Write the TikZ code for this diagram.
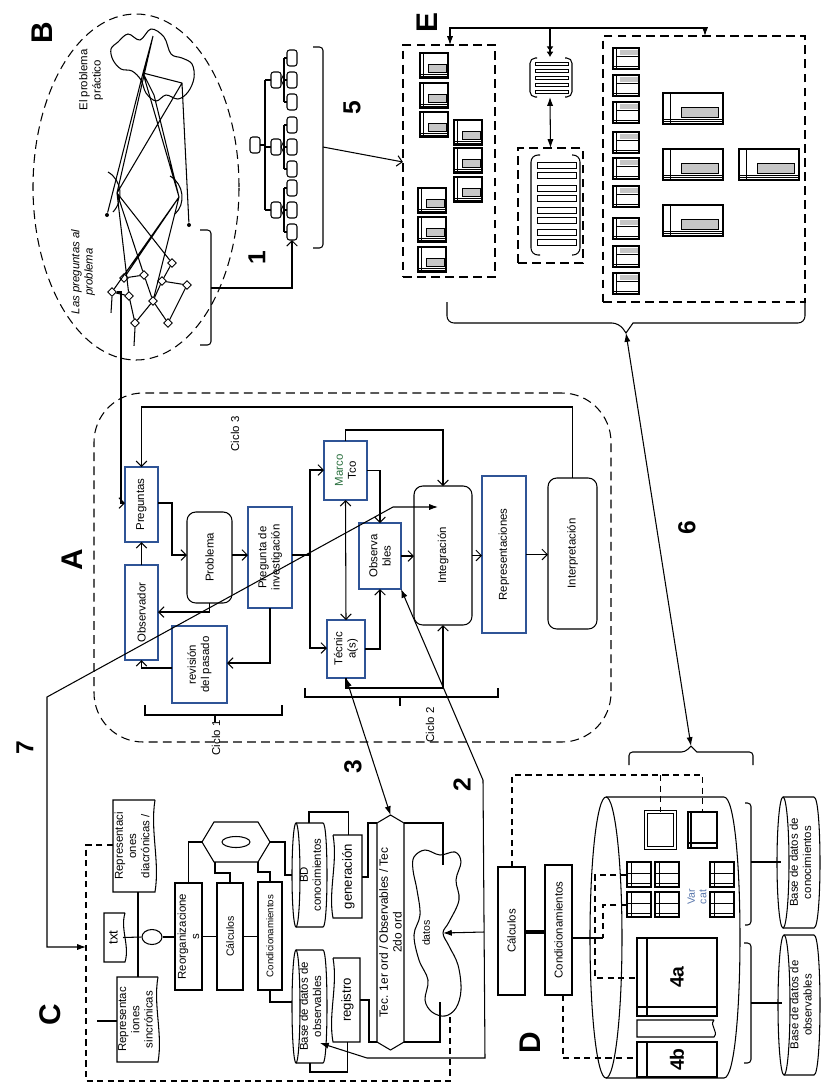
\documentclass[tikz,border=0pt]{standalone}
\usepackage{fontspec}
\setmainfont{Liberation Sans}
\usepackage{graphicx}
\usetikzlibrary{positioning, arrows.meta, fit, shapes.geometric}
\definecolor{azulcaja}{RGB}{47,84,150}
\definecolor{verdetxt}{RGB}{40,110,60}
\newcommand{\upx}{0.02cm}
\newcommand{\letrapeq}{\fontsize{6.5}{7.5}\selectfont}
\newcommand{\letramed}{\fontsize{7.5}{8.5}\selectfont}
% documento con el borde ondulado a la derecha / a la izquierda
\newcommand{\docder}[4]{\draw (#3,#2) -- (#1,#2) -- (#1,#4) -- (#3,#4)
  .. controls ({#3+5},{#4-(#4-#2)/3}) and ({#3-5},{#2+(#4-#2)/3}) .. (#3,#2);}
\newcommand{\docizq}[4]{\draw (#1,#2) -- (#3,#2) -- (#3,#4) -- (#1,#4)
  .. controls ({#1-5},{#4-(#4-#2)/3}) and ({#1+5},{#2+(#4-#2)/3}) .. (#1,#2);}
% cilindro tumbado, tapa a la izquierda
\newcommand{\cilindro}[5]{\draw ({#1+#5},#2) -- ({#3-#5},#2)
  .. controls ({#3+#5/3},#2) and ({#3+#5/3},#4) .. ({#3-#5},#4) -- ({#1+#5},#4);
  \draw ({#1+#5},{(#2+#4)/2}) ellipse ({#5} and {(#4-#2)/2});}
\tikzset{
  pics/tabla/.style 2 args={code={
    \fill[gray!45] (0.3*#1,0.45*#2) rectangle (0.93*#1,0.78*#2);
    \draw[line width=0.4pt] (0.3*#1,0.45*#2) rectangle (0.93*#1,0.78*#2);
    \draw[line width=0.8pt] (0,0) rectangle (#1,#2);
    \draw[line width=0.4pt] (0.13*#1,0) -- (0.13*#1,#2)
      (0,0.86*#2) -- (#1,0.86*#2) (0,0.93*#2) -- (#1,0.93*#2);
  }},
  pics/tablab/.style 2 args={code={
    \fill[gray!45] (0.25*#1,0.1*#2) rectangle (0.95*#1,0.35*#2);
    \draw[line width=0.8pt] (0,0) rectangle (#1,#2);
    \draw[line width=0.4pt] (0.12*#1,0) -- (0.12*#1,#2) (0,0.85*#2) -- (#1,0.85*#2);
    \draw[line width=0.8pt] (0.12*#1,0.4*#2) -- (#1,0.4*#2);
  }},
  pics/rejilla/.style 2 args={code={
    \draw[line width=0.8pt] (0,0) rectangle (#1,#2);
    \draw[line width=0.4pt] (0.18*#1,0) -- (0.18*#1,#2)
      (0,0.45*#2) -- (#1,0.45*#2) (0,0.85*#2) -- (#1,0.85*#2);
  }},
}

\begin{document}
\begin{tikzpicture}[x=0.02cm, y=-0.02cm, line width=0.6pt,
    caja/.style={draw, inner sep=0pt, outer sep=0pt},
    cajaazul/.style={caja, draw=azulcaja, line width=1.3pt},
    redonda/.style={caja, rounded corners=5pt},
    gruesa/.style={caja, line width=1.5pt},
    hueca/.style={inner sep=0pt, outer sep=0pt},
    zona/.style={draw, dash pattern=on 5pt off 3pt, inner sep=0pt, outer sep=0pt},
    discont/.style={dash pattern=on 3.5pt off 2.5pt},
    flecha/.style={->, >={Straight Barb[length=3pt,width=6pt]}},
    dobleflecha/.style={<->, >={Straight Barb[length=3pt,width=6pt]}},
    flechanegra/.style={->, >={Latex[length=5pt,width=3.5pt]}},
    dobleflechanegra/.style={<->, >={Latex[length=5pt,width=3.5pt]}},
    letra/.style={rotate=90, font=\fontsize{17}{17}\selectfont\bfseries},
    numero/.style={rotate=90, font=\fontsize{14}{14}\selectfont\bfseries},
    rotulo/.style={rotate=90, font=\letrapeq, align=center, inner sep=0pt},
    texto/.style={label={[rotulo]center:{#1}}},
    textofuente/.style 2 args={label={[rotulo, font=#1]center:{#2}}},
    rombo/.style={draw, diamond, inner sep=0pt, minimum size=9*\upx, line width=0.5pt},
    punto/.style={fill, circle, inner sep=0pt, minimum size=4*\upx},
    hoja/.style={caja, rounded corners=1.5pt, minimum width=10*\upx, minimum height=16*\upx},
]
\useasboundingbox (0,0) rectangle (821,1083);

% --- B: el problema practico y las preguntas ---
\node[draw, ellipse, dash pattern=on 5pt off 3pt, minimum width=206*\upx,
      minimum height=346*\upx, inner sep=0pt] (B) at (136,187) {};
\node[letra] (letB) at (42,33) {B};
\node[rotulo] (tprac) at (91,80) {El problema\\práctico};
\node[rotulo, font=\letrapeq\itshape] (tpreg) at (83,272) {Las preguntas al\\problema};
\draw plot[smooth cycle, tension=0.6] coordinates {(118,42) (128,34) (140,40) (151,29)
  (164,37) (171,54) (182,58) (192,64) (194,78) (188,92) (178,99) (166,95) (156,101)
  (146,93) (141,80) (132,71) (121,69) (113,60) (111,49)};
\coordinate (c1) at (153,36);
\coordinate (c2) at (143,73);
\coordinate (c3) at (154,95);
\coordinate (c4) at (182,83);
\coordinate (k1) at (117,193);
\coordinate (k2) at (179,197);
\node[punto] (d1) at (107,215) {};
\node[punto] (d2) at (189,225) {};
\foreach \n/\x/\y in {q1/112/292, q2/124/278, q3/129/296, q4/144/275, q5/162/281,
    q6/172/263, q7/187/285, q8/153/301, q9/135/323, q10/168/323}
  \node[rombo] (\n) at (\x,\y) {};
\draw (d1) -- (c2) (k1) -- (c1) (k1) -- (c4) (k2) -- (c3) (k2) -- (c2) (d2) -- (c4)
      (c1) -- (c2) -- (c3) (c2) -- (c4);
\draw (k1) -- (q6) (k1) -- (q4) (k1) -- (q3) (k2) -- (q2) (k2) -- (q1) (k2) -- (q8);
\draw (q2) -- (q4) (q4) -- (q8) (q8) -- (q5) (q5) -- (q6) (q8) -- (q9) (q8) -- (q10)
      (q10) -- (q7) (q3) -- (q9) (q7) -- (q5) (q1) -- (q3);
\draw (q1.south) -- ++(-1,16) (q9.south) -- ++(-1,18);
\draw (108,172) .. controls (122,180) and (124,200) .. (113,212);
\draw (170,176) .. controls (184,184) and (186,204) .. (175,214);

% --- 1: arbol de preguntas ---
\draw[rounded corners=2pt] (200,230) -- (211,230) -- (211,345) -- (200,345);
\coordinate (corB) at (211,288);
\node[numero] (num1) at (257,258) {1};
\node[hoja] (r0) at (255,145) {};
\draw (r0.east) -- (265,145) (265,80) -- (265,210);
\foreach \i/\y in {1/80, 2/147, 3/210} {
  \node[hoja] (m\i) at (276,\y) {};
  \draw (265,\y) -- (m\i.west);
  \foreach \j/\dy in {1/-22, 2/0, 3/22} {
    \node[hoja] (t\i\j) at (292,\y+\dy) {};
    \draw (284,\y+\dy) -- (t\i\j.west);
  }
  \draw (284,\y-22) -- (284,\y+22);
  \draw (m\i.east) -- (284,\y-6) (m\i.east) -- (284,\y+6);
}
\draw[flecha] (corB) -| (t33.south);

% --- E: tablas ---
\node[letra] (letE) at (427,23) {E};
\node[zona, fit={(403,45) (495,277)}] (Eizq) {};
\node[zona, fit={(603,36) (805,302)}] (Eder) {};
\node[zona, fit={(518,148) (583,263)}] (pilag) {};
\node[hueca, fit={(528,57) (572,97)}] (pila) {};
\foreach \x/\y in {420/53, 420/83, 420/112, 454/120, 454/148, 454/177, 418/188, 418/217, 418/247}
  \pic at (\x,\y) {tabla={28}{25}};
\foreach \y in {48,75,102,132,158,186,218,246,273}
  \pic at (613,\y) {tablab={26}{21}};
\foreach \x/\y in {663/93, 663/149, 739/149, 663/205}
  \pic at (\x,\y) {tabla={60}{31}};
\draw[rounded corners=3pt] (537,58) -- (530,58) -- (530,97) -- (537,97);
\draw[rounded corners=3pt] (565,58) -- (572,58) -- (572,97) -- (565,97);
\foreach \y in {62,69,76,83,90} \draw[line width=0.5pt] (535,\y) rectangle (568,\y+3);
\draw[rounded corners=4pt] (540,155) -- (531,155) -- (531,255) -- (540,255);
\draw[rounded corners=4pt] (572,155) -- (580,155) -- (580,255) -- (572,255);
\foreach \y in {162,172,185,195,207,217,229,239} \draw[line width=0.5pt] (537,\y) rectangle (576,\y+6);
\draw[dobleflechanegra] (Eizq.north -| 450,0) -- (450,28) -- (705,28) -- (Eder.north -| 705,0);
\draw[-{Latex[length=3pt,width=4pt] Latex[length=3pt,width=4pt]}] (pila.north |- 0,28) -- (pila.north);
\draw[dobleflechanegra] (pila.south) -- (pilag.north);
\draw[rounded corners=2pt] (313,47) -- (323,47) -- (323,248) -- (313,248);
\node[numero] (num5) at (352,108) {5};
\draw[flecha] (323,147) -- (Eizq.west |- 0,162);
\draw[rounded corners=4pt] (447,302) -- (447,323) -- (619,323) [sharp corners] -- (626,333)
  -- (633,323) [rounded corners=4pt] -- (805,323) -- (805,302);
\coordinate (picoE) at (626,333);

% --- A: ciclos de la investigacion ---
\node[zona, rounded corners=28pt, fit={(94,393) (611,742)}] (A) {};
\node[letra] (letA) at (72,560) {A};
\node[rotulo] (ciclo3) at (235,434) {Ciclo 3};
\node[cajaazul, fit={(125,467) (158,542)}, texto={Preguntas}] (preg) {};
\node[cajaazul, fit={(125,565) (158,660)}, texto={Observador}] (obsr) {};
\node[redonda, fit={(187,512) (232,603)}, texto={Problema}] (prob) {};
\node[cajaazul, fit={(248,507) (292,608)}, texto={Pregunta de\\investigación}] (pinv) {};
\node[cajaazul, fit={(172,626) (227,703)}, texto={revisión\\del pasado}] (revp) {};
\node[cajaazul, fit={(324,441) (367,500)}, texto={\textcolor{verdetxt}{Marco}\\Tco}] (marco) {};
\node[cajaazul, fit={(359,523) (401,589)}, texto={Observa\\bles}] (obsb) {};
\node[cajaazul, fit={(327,620) (365,678)}, texto={Técnic\\a(s)}] (tecn) {};
\node[redonda, fit={(414,486) (472,625)}, texto={Integración}] (integ) {};
\node[cajaazul, fit={(482,476) (526,633)}, texto={Representaciones}] (repr) {};
\node[redonda, fit={(548,478) (597,629)}, texto={Interpretación}] (interp) {};

\draw[flecha] (interp.north) -- (interp.north |- 0,407) -- (preg.north |- 0,407) -- (preg.north);
\draw[flecha] (obsr.north) -- (preg.south);
\draw[flecha] (preg.east |- 0,503) -| (172,555) -- (prob.west |- 0,555);
\draw[flecha] (prob.east |- 0,555) -- (pinv.west |- 0,555);
\draw[flecha] (prob.south) |- (obsr.east |- 0,612);
\draw[flecha] (pinv.south) |- (revp.east |- 0,663);
\draw[flecha] (revp.west |- 0,668) -| (obsr.south);
\draw[flecha] (q1.east) -| (121,503) -- (preg.west |- 0,503);
\draw (pinv.east |- 0,555) -- (310,555);
\draw[flecha] (310,648) |- (marco.west |- 0,470);
\draw[flecha] (310,555) |- (tecn.west |- 0,648);
\draw[flecha] (marco.north) |- (integ.north |- 0,430) -- (integ.north);
\draw[flecha] (marco.east) -| (obsb.north);
\draw[dobleflecha] (marco.south) -- (tecn.north);
\draw[flecha] (tecn.east) -| (obsb.south);
\draw[flecha] (obsb.east) -- (integ.west |- obsb.east);
\draw[flecha] (integ.east) -- (repr.west |- integ.east);
\draw[flecha] (repr.east) -- (interp.west |- repr.east);
\draw[flecha] (tecn.south) |- (integ.south |- 0,688) -- (integ.south);
% llaves de los ciclos
\draw (145,705) -- (145,715) -- (282,715) -- (282,705) (215,715) -- (215,722);
\node[rotulo] (ciclo1) at (216,738) {Ciclo 1};
\draw (305,688) -- (305,697) -- (498,697) -- (498,688) (400,697) -- (400,706);
\node[rotulo] (ciclo2) at (430,725) {Ciclo 2};

% --- C: representaciones ---
\node[letra] (letC) at (50,1015) {C};
\draw[discont] (113,845) -- (86,845) -- (86,1081) -- (450,1081) -- (450,1017);
\coordinate (Cizq) at (86,947);
\docder{113}{800}{155}{892}
\node[hueca, fit={(113,800) (151,892)}, texto={Representaci\\ones\\diacrónicas /}] (rdia) {};
\docder{117}{977}{158}{1062}
\node[hueca, fit={(117,977) (154,1062)}, texto={Representac\\iones\\sincrónicas}] (rsin) {};
\docder{104}{913}{125}{962}
\node[hueca, fit={(104,913) (123,962)}, textofuente={\letramed}{txt}] (txt) {};
\node[draw, ellipse, minimum width=20*\upx, minimum height=15*\upx, inner sep=0pt] (circ) at (152,937) {};
\node[caja, fit={(175,883) (202,990)}, texto={Reorganizacione\\s}] (reorg) {};
\node[caja, fit={(217,883) (243,990)}, textofuente={\fontsize{6}{7}\selectfont}{Cálculos}] (calcC) {};
\node[caja, fit={(258,882) (282,990)}, textofuente={\fontsize{5.5}{6.5}\selectfont}{Condicionamientos}] (condC) {};
\node[hueca, fit={(202,822) (270,862)}] (hexa) {};
\draw (hexa.west) -- (214,822) -- (258,822) -- (hexa.east) -- (258,862) -- (214,862) -- cycle;
\draw (236,842) ellipse (14 and 5.5);
\cilindro{292}{823}{327}{927}{4}
\node[hueca, fit={(294,823) (327,927)}, texto={BD\\conocimientos}] (bdc) {};
\cilindro{292}{950}{327}{1063}{4}
\node[hueca, fit={(294,950) (327,1063)}, texto={Base de datos de\\observables}] (bdo) {};
\docizq{333}{835}{362}{918}
\node[hueca, fit={(335,835) (362,918)}, textofuente={\letramed}{generación}] (gen) {};
\docizq{333}{958}{360}{1042}
\node[hueca, fit={(335,958) (360,1042)}, textofuente={\letramed}{registro}] (reg) {};
\node[hueca, fit={(377,815) (404,1050)},
  textofuente={\fontsize{6.8}{7.8}\selectfont}{Tec. 1er ord / Observables / Tec\\2do ord}] (tec1) {};
\draw (tec1.north) -- (404,823) -- (404,1042) -- (tec1.south) -- (377,1042) -- (377,823) -- cycle;
\draw plot[smooth cycle, tension=0.6] coordinates {(414,857) (425,850) (440,855) (455,852)
  (461,862) (456,880) (459,900) (449,922) (443,933) (449,946) (458,965) (461,990) (456,1008)
  (445,1016) (432,1012) (425,1000) (428,980) (419,960) (414,935) (420,915) (417,890) (413,870)};
\node[rotulo, font=\fontsize{6}{7}\selectfont] (datos) at (426,933) {datos};

\draw (97,1021) -- (rsin.west |- 0,1021);
\draw (rdia.south -| 138,0) -- (rsin.north -| 138,0);
\draw (txt.east) -- (circ.west);
\draw (circ.east) -- (reorg.west |- circ.east);
\draw (reorg.east) -- (calcC.west |- reorg.east);
\draw (calcC.east) -- (condC.west |- calcC.east);
\draw (reorg.north) |- (hexa.west);
\draw (calcC.north) |- (215,873) -- (215,862);
\draw (258,862) -- (258,872) -| (condC.north);
\draw (hexa.east) -| (285,875) -- (292,875);
\draw (309,823) |- (gen.north |- 0,812) -- (gen.north);
\draw (gen.east |- 0,877) -| (368,823) -- (tec1.west |- 0,823);
\draw (tec1.east |- 0,823) -| (443,865);
\draw (tec1.east |- 0,1042) -| (440,1002);
\draw (reg.east |- 0,1000) -| (369,1042) -- (tec1.west |- 0,1042);
\draw (reg.south) |- (310,1072) -- (310,1063);
\draw (condC.south) |- (292,1002);

% --- D: base de datos ---
\node[letra] (letD) at (530,1043) {D};
\node[gruesa, fit={(498,867) (525,995)}, texto={Cálculos}] (calcD) {};
\node[gruesa, fit={(545,865) (572,995)}, texto={Condicionamientos}] (condD) {};
\draw[line width=1.8pt] (calcD.east |- 0,932) -- (condD.west |- 0,932);
\cilindro{590}{797}{740}{1078}{16}
\node[hueca, fit={(590,797) (740,1078)}] (cilD) {};
\cilindro{777}{797}{820}{928}{6}
\node[hueca, fit={(781,797) (820,928)}, texto={Base de datos de\\conocimientos}] (bdcD) {};
\cilindro{778}{935}{820}{1075}{6}
\node[hueca, fit={(782,935) (820,1075)}, texto={Base de datos de\\observables}] (bdoD) {};
\node[caja, double, double distance=1.2pt, fit={(646,812) (675,848)}] (sb1) {};
\node[caja, fit={(688,812) (717,848)}] (sb2) {};
\draw (691,812) -- (691,848) (688,843) -- (717,843);
\foreach \x/\y in {627/862, 655/862, 627/892, 655/892, 710/862, 710/892}
  \pic at (\x,\y) {rejilla={24}{25}};
\node[rotulo, text=azulcaja!80, font=\fontsize{6}{6.5}\selectfont] (varcat) at (697,897) {Var\\cat};
\node[caja, fit={(637,938) (717,1016)},
  textofuente={\fontsize{11}{11}\selectfont\bfseries}{4a}] (c4a) {};
\draw (647,938) -- (647,1016) (637,1007) -- (717,1007);
\docder{637}{1020}{714}{1037}
\node[caja, fit={(637,1042) (717,1077)},
  textofuente={\fontsize{11}{11}\selectfont\bfseries}{4b}] (c4b) {};
\draw (647,1042) -- (647,1077);
\draw (condD.east |- 0,938) -- (603,938);
\draw[discont] (627,875) -- (595,875) -- (595,978) -- (c4a.west |- 0,978);
\draw[discont] (627,905) -- (603,905) -- (603,938);
\draw[discont] (condD.south -| 563,0) |- (c4b.west |- 0,1058);
\draw[discont] (calcD.north -| 512,0) |- (sb2.north |- 0,775) -- (sb2.north);
\draw[discont] (sb1.north |- 0,775) -- (sb1.north);
\draw[rounded corners=2pt] (745,803) -- (751,803) -- (751,925) -- (745,925);
\draw (751,862) -- (bdcD.west |- 0,862);
\draw[rounded corners=2pt] (744,943) -- (751,943) -- (751,1063) -- (744,1063);
\draw (751,1003) -- (bdoD.west |- 0,1003);
\draw[rounded corners=2pt] (629,765) -- (629,752) -- (685,752) [sharp corners] -- (691,746)
  -- (697,752) [rounded corners=2pt] -- (753,752) -- (753,765);
\coordinate (picoD) at (691,746);

% --- flechas entre zonas ---
\draw[dobleflechanegra] (picoE) -- (picoD);
\node[numero] (num6) at (687,528) {6};
\coordinate (punta7) at (438,507);
\draw[dobleflechanegra] (Cizq) -- (47,947) -- (47,697) -- (393,507) -- (punta7);
\node[numero] (num7) at (25,748) {7};
\draw[dobleflechanegra] (tecn.south) -- (tec1.north);
\node[numero] (num3) at (353,767) {3};
\coordinate (quiebre) at (483,780);
\coordinate (esq2) at (485,1058);
\coordinate (esq3) at (367,1058);
\coordinate (puntaobs) at (320,1043);
\coordinate (rama2) at (484,932);
\draw[dobleflechanegra] (obsb.south east) -- (quiebre) -- (esq2) -- (esq3) -- (puntaobs);
\draw[flechanegra] (rama2) -- (443,933);
\node[numero] (num2) at (462,785) {2};
\end{tikzpicture}
\end{document}
